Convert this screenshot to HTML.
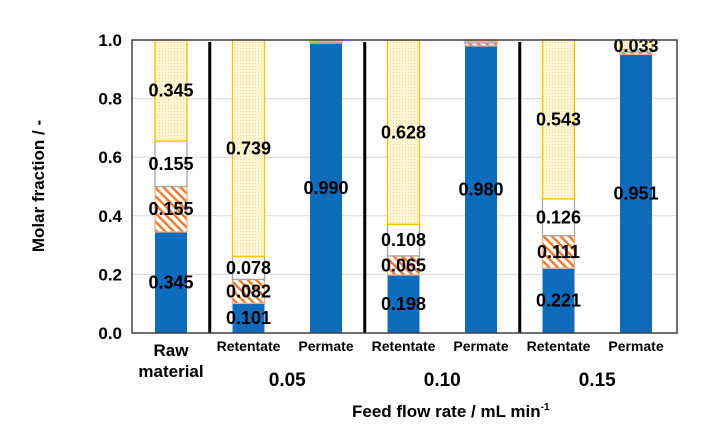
<!DOCTYPE html>
<html><head><meta charset="utf-8"><style>
body{margin:0;background:#fff;width:702px;height:440px;overflow:hidden}
text{font-family:"Liberation Sans",Arial,sans-serif;font-weight:bold;fill:#000}
</style></head><body>
<svg id="chart" width="702" height="440" xmlns="http://www.w3.org/2000/svg">
<defs>
<pattern id="hatch" width="6" height="6" patternUnits="userSpaceOnUse" patternTransform="rotate(-45)">
<rect width="6" height="6" fill="#fff"/><rect width="2.5" height="6" fill="#ed7d31"/></pattern>
<pattern id="dots" width="3" height="3" patternUnits="userSpaceOnUse">
<rect width="3" height="3" fill="#fff6d6"/><rect width="1" height="1" fill="#f2d98c"/></pattern>
</defs>
<g id="grid"></g><g id="bars"></g><g id="axes"></g>
</svg>
<script>
const categories=["Raw","Retentate","Permate","Retentate","Permate","Retentate","Permate"];
const blue=[0.345,0.101,0.990,0.198,0.980,0.221,0.951];
const orange=[0.155,0.082,0.003,0.065,0.010,0.111,0.008];
const white=[0.155,0.078,0.002,0.108,0.005,0.126,0.008];
const yellow=[0.345,0.739,0.005,0.628,0.005,0.543,0.033];
const showLabels=[[1,1,1,1],[1,1,1,1],[1,0,0,0],[1,1,1,1],[1,0,0,0],[1,1,1,1],[1,0,0,1]];
const yTicks=[0,0.2,0.4,0.6,0.8,1.0];
const groupLabels=["0.05","0.10","0.15"];
const NS="http://www.w3.org/2000/svg";
const X0=132,X1=677,Y0=333,Y1=40;
const y=v=>Y0-(Y0-Y1)*v;
const step=77.5,bw=32;
const xc=i=>171+i*step;
function mk(tag,attrs,parent,txt){const e=document.createElementNS(NS,tag);for(const k in attrs)e.setAttribute(k,attrs[k]);if(txt!==undefined)e.textContent=txt;parent.appendChild(e);return e;}
const grid=document.getElementById('grid'),bars=document.getElementById('bars'),axes=document.getElementById('axes');
yTicks.forEach(t=>{
 const l=mk('line',{x1:X0,x2:X1,y1:y(t),y2:y(t),stroke:'#d9d9d9','stroke-width':1},grid);
 
 
 const tx=mk('text',{x:X0-10,y:y(t)+6,'text-anchor':'end','font-size':17},axes,t.toFixed(1));
 
 
});
const series=[blue,orange,white,yellow];
const fills=['#0f6cbd','url(#hatch)','#fff','url(#dots)'];
const strokes=['none','#f4b183','#a6a6a6','#ffc000'];
categories.forEach((c,i)=>{
 let acc=0;
 series.forEach((s,k)=>{
  const v=s[i],top=y(acc+v),bot=y(acc);
  const r=mk('rect',{x:xc(i)-bw/2,y:top,width:bw,height:Math.max(bot-top,0.5),fill:fills[k],stroke:strokes[k],'stroke-width':1.3},bars);
  
  
  if(showLabels[i][k]){
   const ly=Math.min(Math.max(y(acc+v/2)+6,y(1)+12),Y0-5);
   const t=mk('text',{x:xc(i),y:ly,'text-anchor':'middle','font-size':18},bars,v.toFixed(3));
   
   
  }
  acc+=v;
 });
 const cl=mk('text',{x:xc(i),y:i==0?356:351,'text-anchor':'middle','font-size':i==0?17:14},axes,i==0?'Raw':c);
 
 
});
const rm=mk('text',{x:xc(0),y:377,'text-anchor':'middle','font-size':17},axes,'material');


groupLabels.forEach((g,j)=>{
 const sep=(xc(2*j)+xc(2*j+1))/2;
 const l=mk('line',{x1:sep,x2:sep,y1:42,y2:Y0,stroke:'#000','stroke-width':3},axes);
 
 
 const t=mk('text',{x:(xc(2*j+1)+xc(2*j+2))/2,y:386,'text-anchor':'middle','font-size':19},axes,g);
 
 
});
const fr=mk('rect',{x:X0,y:Y1,width:X1-X0,height:Y0-Y1,fill:'none',stroke:'#404040','stroke-width':1.5},axes);


const yt=mk('text',{x:0,y:0,transform:'translate(44,186) rotate(-90)','text-anchor':'middle','font-size':17},axes,'Molar fraction / -');


const xt=mk('text',{x:352,y:417,'font-size':17},axes,'Feed flow rate / mL min');


const sup=mk('tspan',{'font-size':10,dy:-7},xt,'-1');
</script>
</body></html>
